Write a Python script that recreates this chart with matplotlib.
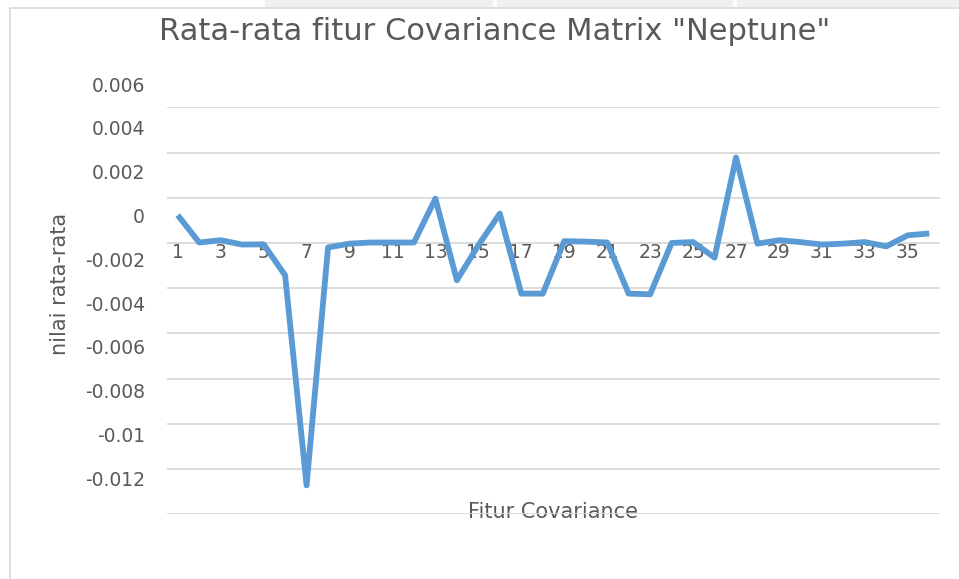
import matplotlib
matplotlib.use("Agg")
import matplotlib.pyplot as plt
from matplotlib.patches import Rectangle

# data
fitur = list(range(1, 37))
rata = [0.00123, 0.00002, 0.00012, -0.00007, -0.00006, -0.00143, -0.01072, -0.0002,
        -0.00003, 0.00002, 0.00002, 0.00002, 0.00196, -0.00165, -0.0001, 0.0013,
        -0.00224, -0.00224, 0.00008, 0.00006, 0.00002, -0.00224, -0.00227, 0.0,
        0.00004, -0.00065, 0.00378, -0.00003, 0.00012, 0.00004, -0.00007, -0.00003,
        0.00004, -0.00015, 0.00034, 0.00042]
y_ticks = [0.006, 0.004, 0.002, 0, -0.002, -0.004, -0.006, -0.008, -0.01, -0.012]
y_labels = ["0.006", "0.004", "0.002", "0", "-0.002", "-0.004", "-0.006", "-0.008", "-0.01", "-0.012"]
x_ticks = list(range(1, 37, 2))
x_labels = [str(i) for i in x_ticks]

judul = 'Rata-rata fitur Covariance Matrix "Neptune"'
label_x = "Fitur Covariance"
label_y = "nilai rata-rata"

abu = "#595959"
biru = "#5B9BD5"
garis = "#d9d9d9"

plt.rcParams['font.family'] = ['DejaVu Sans']

fig = plt.figure(figsize=(9.59, 5.79), dpi=100)

# frame of the chart box + tabs above it
fig.patches.append(Rectangle((10/959, -0.05), 1.2, 1 - 8/579 + 0.05, transform=fig.transFigure,
                             fill=False, edgecolor=garis, lw=1.2))
for x0, x1 in [(265, 493), (497, 733), (737, 959)]:
    fig.patches.append(Rectangle((x0/959, 1 - 7/579), (x1 - x0)/959, 7/579,
                                 transform=fig.transFigure, facecolor="#f0f0f0", edgecolor="none"))

ax = fig.add_axes([167/959, 1 - 514.3/579, 773/959, 407/579])
ax.plot(fitur, rata, color=biru, lw=4.2, solid_joinstyle='round', solid_capstyle='butt', zorder=3)
ax.set_xlim(0.5, 36.5)
ax.set_ylim(-0.012, 0.006)
ax.set_yticks(y_ticks)
ax.grid(axis='y', color=garis, lw=1.3)
ax.set_axisbelow(True)
ax.tick_params(axis='y', length=0, labelleft=False)
for s in ['top', 'right', 'left']:
    ax.spines[s].set_visible(False)
ax.spines['bottom'].set_position(('data', 0))
ax.spines['bottom'].set_color('none')
ax.set_xticks(x_ticks)
ax.set_xticklabels(x_labels)
ax.tick_params(axis='x', length=0, pad=0, labelsize=13.5, labelcolor=abu)

ax.set_xlabel(label_x, fontsize=15, color=abu)
ax.xaxis.set_label_coords(0.5, 0.0064)
ax.xaxis.label.set_va('center')
ax.set_ylabel(label_y, fontsize=15, color=abu)
ax.yaxis.set_label_coords(-0.1384, 0.566)
ax.yaxis.label.set_va('center')

# value labels on the left sit a little higher than the gridlines
ax2 = fig.add_axes([167/959, 1 - 478.3/579, 773/959, 394.3/579], facecolor='none')
ax2.set_ylim(-0.012, 0.006)
ax2.set_yticks(y_ticks)
ax2.set_yticklabels(y_labels)
ax2.tick_params(axis='y', length=0, pad=16, labelsize=13.5, labelcolor=abu)
ax2.set_xticks([])
for s in ax2.spines.values():
    s.set_visible(False)

fig.text(495/959, 1 - 32/579, judul, ha='center', va='center', fontsize=22, color=abu)

fig.savefig("out.png", dpi=100)
